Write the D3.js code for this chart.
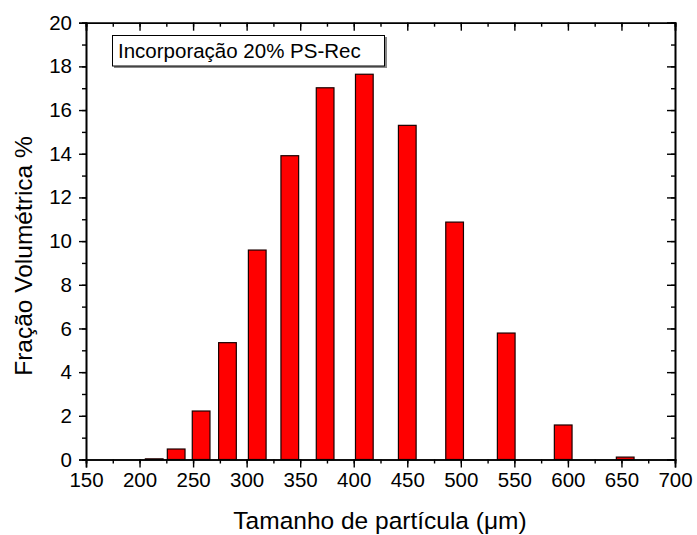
<!DOCTYPE html>
<html><head><meta charset="utf-8">
<script src="https://cdn.jsdelivr.net/npm/d3@7/dist/d3.min.js"></script>
<style>body{margin:0;background:#fff}svg{display:block}text{font-family:"Liberation Sans",Arial,sans-serif;fill:#000}</style>
</head><body>
<svg id="c" width="697" height="535"></svg>
<script>
// Data
const sizes = [213.7, 234.2, 257.5, 282.1, 309.9, 340.3, 373.3, 409.9, 450.0, 494.2, 542.4, 595.6, 653.5];
const fractions = [0.03, 0.48, 2.22, 5.35, 9.59, 13.91, 17.02, 17.64, 15.30, 10.87, 5.79, 1.58, 0.11];
const xTicks = [150, 200, 250, 300, 350, 400, 450, 500, 550, 600, 650, 700];
const yTicks = [0, 2, 4, 6, 8, 10, 12, 14, 16, 18, 20];
const legendText = "Incorporação 20% PS-Rec";
const xTitle = "Tamanho de partícula (μm)";
const yTitle = "Fração Volumétrica %";

const svg = d3.select("#c");
const L = 86, R = 675, T = 22.7, B = 459.5;
const x = d3.scaleLinear().domain([150, 700]).range([L, R]);
const y = d3.scaleLinear().domain([0, 20]).range([B, T]);
const barW = 17.7;

const xMinor = d3.range(150, 701, 25);
const yMinor = d3.range(0, 21, 1);

// bars
svg.append("g").selectAll("rect").data(sizes).join("rect")
  .attr("x", (d) => x(d) - barW / 2)
  .attr("y", (d, i) => y(fractions[i]))
  .attr("width", barW)
  .attr("height", (d, i) => B - y(fractions[i]))
  .attr("fill", "#ff0000")
  .attr("stroke", "#1a0000")
  .attr("stroke-width", 1.2);

function styleAxis(g) {
  g.attr("font-size", null).attr("font-family", null);
  g.selectAll("path").attr("stroke", "#000").attr("stroke-width", 1.6);
  g.selectAll("line").attr("stroke", "#000").attr("stroke-width", 1.4);
  g.selectAll("text").style("font-size", "20.5px").style("font-family", '"Liberation Sans", Arial, sans-serif').attr("fill", "#000");
}

// minor ticks
svg.append("g").attr("transform", `translate(0,${B})`)
  .call(d3.axisBottom(x).tickValues(xMinor).tickSize(4).tickFormat(""))
  .call(styleAxis);
svg.append("g").attr("transform", `translate(0,${T})`)
  .call(d3.axisTop(x).tickValues(xMinor).tickSize(-4).tickFormat(""))
  .call(styleAxis);
svg.append("g").attr("transform", `translate(${L},0)`)
  .call(d3.axisLeft(y).tickValues(yMinor).tickSize(4).tickFormat(""))
  .call(styleAxis);
svg.append("g").attr("transform", `translate(${R},0)`)
  .call(d3.axisRight(y).tickValues(yMinor).tickSize(-4).tickFormat(""))
  .call(styleAxis);

// major ticks
svg.append("g").attr("transform", `translate(0,${B})`)
  .call(d3.axisBottom(x).tickValues(xTicks).tickSize(8).tickPadding(5).tickFormat(d3.format("d")))
  .call(styleAxis);
svg.append("g").attr("transform", `translate(0,${T})`)
  .call(d3.axisTop(x).tickValues(xTicks).tickSize(-8).tickFormat(""))
  .call(styleAxis);
svg.append("g").attr("transform", `translate(${L},0)`)
  .call(d3.axisLeft(y).tickValues(yTicks).tickSize(7).tickPadding(7).tickFormat(d3.format("d")))
  .call(styleAxis);
svg.append("g").attr("transform", `translate(${R},0)`)
  .call(d3.axisRight(y).tickValues(yTicks).tickSize(-8).tickFormat(""))
  .call(styleAxis);

// legend box
const lg = svg.append("g");
lg.append("rect").attr("x", 114).attr("y", 37).attr("width", 273).attr("height", 31).attr("fill", "#888");
lg.append("rect").attr("x", 112.5).attr("y", 35.5).attr("width", 272).attr("height", 30.5)
  .attr("fill", "#fff").attr("stroke", "#000").attr("stroke-width", 1);
lg.append("text").attr("x", 118).attr("y", 58).style("font-size", "20.5px").text(legendText);

// axis titles
svg.append("text").attr("x", 380).attr("y", 529).attr("text-anchor", "middle")
  .style("font-size", "24.5px").text(xTitle);
svg.append("text").attr("transform", `translate(32,256) rotate(-90)`)
  .attr("text-anchor", "middle").style("font-size", "24.5px").text(yTitle);
</script>
</body></html>
